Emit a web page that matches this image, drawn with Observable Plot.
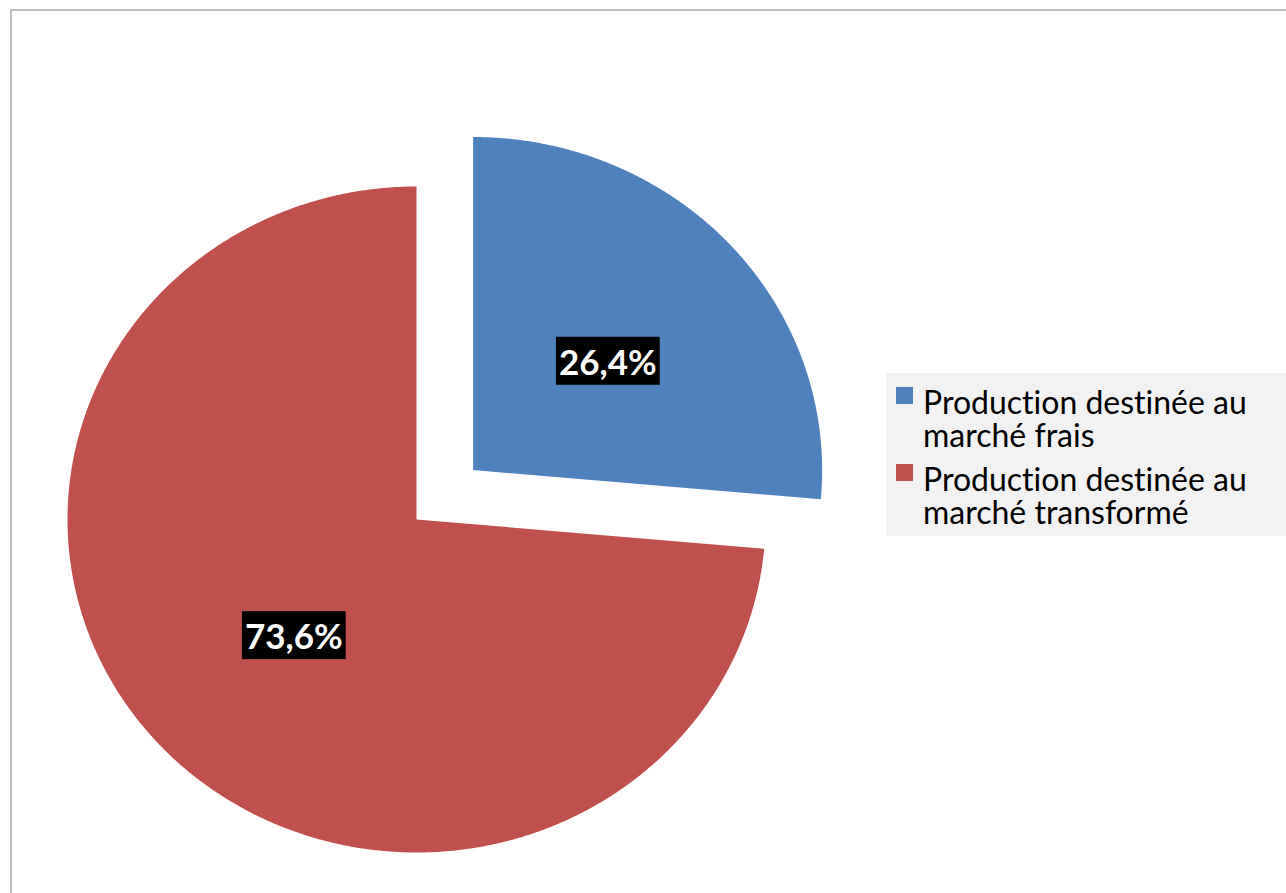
<!DOCTYPE html>
<html>
<head>
<meta charset="utf-8">
<script src="https://cdn.jsdelivr.net/npm/d3@7"></script>
<script src="https://cdn.jsdelivr.net/npm/@observablehq/plot@0.6"></script>
<style>
  html, body { margin: 0; padding: 0; background: #fff; overflow: hidden; }
  #wrap { position: relative; width: 1286px; height: 893px; }
  #frame { position: absolute; left: 10px; top: 9px; width: 1400px; height: 1000px; border: 2px solid #bfbfbf; box-sizing: border-box; }
  #chart { position: absolute; left: 0; top: 0; }
  #legend { position: absolute; left: 886px; top: 373px; width: 420px; height: 163px; background: #f2f2f2;
            font-family: Lato, "Open Sans", sans-serif; color: #000; font-variant-ligatures: none; }
  .item { position: absolute; left: 0; }
  .sw { position: absolute; left: 10px; width: 17px; height: 17px; }
  .txt { position: absolute; left: 37px; font-size: 32px; line-height: 33px; white-space: nowrap; }
  svg text { font-variant-ligatures: none; }
</style>
</head>
<body>
<div id="wrap">
  <div id="frame"></div>
  <div id="chart"></div>
  <div id="legend"></div>
</div>
<script>
const categories = ["Production destinée au marché frais", "Production destinée au marché transformé"];
const legendLines = [["Production destinée au", "marché frais"], ["Production destinée au", "marché transformé"]];
const values = [26.4, 73.6];
const valueLabels = ["26,4%", "73,6%"];
const colors = ["#4F81BD", "#C0504D"];
const explode = [0.22, 0];

const arcs = d3.pie().sort(null).value(d => d)(values);

// slice outlines in unit coordinates (radius 1, y up), clockwise from 12 o'clock
const slices = arcs.map((a, i) => {
  const mid = (a.startAngle + a.endAngle) / 2;
  const ox = explode[i] * Math.sin(mid), oy = explode[i] * Math.cos(mid);
  const pts = [{x: ox, y: oy}];
  const n = Math.ceil((a.endAngle - a.startAngle) / (Math.PI / 720));
  for (let k = 0; k <= n; k++) {
    const t = a.startAngle + (a.endAngle - a.startAngle) * k / n;
    pts.push({x: ox + Math.sin(t), y: oy + Math.cos(t)});
  }
  pts.push({x: ox, y: oy});
  return {cat: categories[i], color: colors[i], pts, label: valueLabels[i],
          lx: ox + 0.5 * Math.sin(mid), ly: oy + 0.5 * Math.cos(mid)};
});

const plot = Plot.plot({
  width: 1286,
  height: 893,
  margin: 0,
  x: {domain: [-1, 1], range: [67, 765], axis: null},
  y: {domain: [-1, 1], range: [852, 186], axis: null},
  marks: [
    ...slices.map(s => Plot.line(s.pts, {x: "x", y: "y", fill: s.color, stroke: "none", curve: "linear"})),
    Plot.text(slices, {x: "lx", y: "ly", dx: 6, dy: 6, text: "label", fill: "white", fontSize: 35, fontWeight: "bold",
                       fontFamily: "Lato, 'Open Sans', sans-serif", textAnchor: "middle", lineAnchor: "middle"})
  ]
});
document.getElementById("chart").appendChild(plot);

// black background boxes behind the data labels
plot.querySelectorAll("text").forEach(t => {
  const b = t.getBBox();
  const r = document.createElementNS("http://www.w3.org/2000/svg", "rect");
  const padX = 3, h = 48;
  r.setAttribute("x", b.x - padX);
  r.setAttribute("y", b.y + b.height / 2 - h / 2);
  r.setAttribute("width", b.width + 2 * padX);
  r.setAttribute("height", h);
  r.setAttribute("fill", "black");
  const tr = t.getAttribute("transform");
  if (tr) r.setAttribute("transform", tr);
  t.parentNode.insertBefore(r, t);
});

// legend
const legend = document.getElementById("legend");
const tops = [17, 94];
legendLines.forEach((lines, i) => {
  const item = document.createElement("div");
  item.className = "item";
  item.style.top = tops[i] + "px";
  const sw = document.createElement("div");
  sw.className = "sw"; sw.style.background = colors[i]; sw.style.top = "-3px";
  const tx = document.createElement("div");
  tx.className = "txt"; tx.style.top = "-5px";
  tx.innerHTML = lines.join("<br>");
  item.appendChild(sw); item.appendChild(tx);
  legend.appendChild(item);
});
</script>
</body>
</html>
